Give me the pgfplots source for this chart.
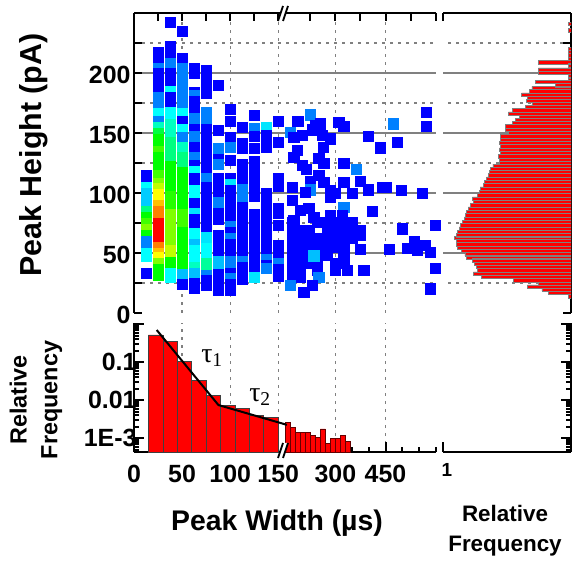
\documentclass[border=0pt]{standalone}
\usepackage{pgfplots}
\pgfplotsset{compat=1.18}
\usepackage{fontspec}
\setmainfont{Liberation Sans}
\newfontfamily\tauserif{Liberation Serif}
\definecolor{gridgray}{RGB}{128,128,128}
\pgfplotsset{
  colormap={scat}{rgb255=(0,0,255) rgb255=(0,128,255) rgb255=(0,255,255) rgb255=(0,255,128) rgb255=(0,255,0) rgb255=(128,255,0) rgb255=(255,255,0) rgb255=(255,128,0) rgb255=(255,0,0)},
  base/.style={
    scale only axis, anchor=south west,
    axis line style={line width=2.4bp, black, -},
    tick align=inside,
    major tick length=8bp, minor tick length=5bp,
    tick style={black, line width=2bp},
    tick label style={font=\bfseries\fontsize{25}{25}\selectfont},
    major grid style={gridgray, line width=1.4bp},
    minor grid style={gridgray, line width=1.3bp, dash pattern=on 3bp off 5bp},
  },
}
\pgfplotstableread{
x y c
12.5 115 0
12.5 110 0
12.5 105 2
12.5 100 1.6
12.5 95 1.6
12.5 90 1.6
12.5 85 3
12.5 80 4
12.5 75 4.5
12.5 70 5
12.5 65 4
12.5 60 1
12.5 55 1
12.5 50 2
12.5 47 2
12.5 33 0
25 217 0
25 212 0
25 207 0
25 204 1
25 200 0
25 195 0
25 190 0
25 185 0
25 180 1
25 175 1
25 170 1
25 166 2
25 160 1
25 155 2.5
25 150 3.5
25 145 4
25 140 4
25 135 4.5
25 130 4
25 125 4
25 120 4
25 115 4.5
25 108 5
25 104 5.5
25 99 6
25 94 6
25 90 6.5
25 85 7
25 80 7
25 75 8
25 70 8
25 65 8
25 60 8
25 55 7
25 50 6.5
25 46 6
25 41 5
25 36 4
25 31.5 4
37.5 242.5 0
37.5 222 0
37.5 217 0
37.5 213 0
37.5 208 1
37.5 204 1
37.5 200 0
37.5 195 0
37.5 190 0
37.5 185 2
37.5 180 0
37.5 175 0
37.5 171 0
37.5 167 2
37.5 162 2
37.5 157 2.5
37.5 152 2.5
37.5 147 2.5
37.5 142 3
37.5 137 3
37.5 132 3
37.5 127 3
37.5 122 4
37.5 117 4
37.5 112 4
37.5 107 4
37.5 102 4
37.5 97 4.3
37.5 92 4.3
37.5 87 4.3
37.5 82 5
37.5 77 5
37.5 72 5
37.5 67 5
37.5 62 5
37.5 57 5
37.5 52 5.5
37.5 47 5.5
37.5 42 4
37.5 38 4
37.5 33 2
37.5 29.7 2
50 235 0
50 212 0
50 208 0
50 204 1
50 199 1
50 194 1
50 189 1
50 184 1
50 179 1
50 174 1
50 170 1
50 166 2
50 160 0
50 153 2
50 146 1
50 138 2.5
50 130 3
50 126 3
50 122 3
50 117 4
50 112 4
50 107 4
50 102 4
50 97 4
50 92 4
50 87 4
50 82 4.5
50 77 4.5
50 72 4.5
50 67 4
50 62 4
50 57 4
50 52 4
50 47 4
50 42 4
50 37 4
50 32 1.5
50 24 0
62.5 204 0
62.5 200 0
62.5 184 0
62.5 181 1
62.5 176 0
62.5 171 0
62.5 166 0
62.5 162 1
62.5 153 0
62.5 147 1
62.5 143 1
62.5 138 0
62.5 130 1
62.5 126 1
62.5 123 0
62.5 118 2
62.5 112 0
62.5 107 0
62.5 102 2
62.5 97 2
62.5 91 0
62.5 87 0
62.5 83 1.8
62.5 78 0
62.5 73 0
62.5 66 2
62.5 62 2
62.5 57 1.5
62.5 52 2
62.5 47 2
62.5 43 2
62.5 38 2.5
62.5 33 1.5
62.5 30 1.5
62.5 25 0
62.5 21 0
75 202 0
75 193 0
75 188 0
75 183 0
75 167 1
75 162 1
75 158 1
75 153 0
75 148 0
75 143 0
75 138 0
75 133 0
75 128 0
75 123 0
75 118 0
75 112 1
75 105 0
75 100 0
75 95 0
75 90 0
75 85 0
75 80 0
75 75 0
75 70 0
75 63 1.8
75 59 1.8
75 54 2
75 49 2
75 45 2
75 41 2.8
75 36 2.8
75 31 1
75 27 0
75 23 0
87.5 190 0
87.5 152 0
87.5 137 1
87.5 128 0
87.5 124 1
87.5 112 0
87.5 107 0
87.5 102 0
87.5 97 0
87.5 92 1
87.5 88 1
87.5 83 0
87.5 78 0
87.5 65 0
87.5 60 0
87.5 55 0
87.5 50 0
87.5 43 1.5
87.5 38 1.5
87.5 32 0
87.5 27 0
87.5 22 0
87.5 19 0
100 170 0
100 160 0
100 146 0
100 138 1
100 127 0
100 112 0
100 107 1.8
100 102 0
100 97 0
100 92 0
100 87 0
100 82 0
100 77 0
100 72 1
100 67 0
100 62 1
100 57 0
100 52 0
100 47 0
100 43 1
100 38 1
100 33 0
100 29 1
100 24 0
100 19 0
112.5 155 0
112.5 141 0
112.5 137 0
112.5 124 0
112.5 119 0
112.5 114 0
112.5 109 0
112.5 103 1
112.5 98 1
112.5 93 1
112.5 88 0
112.5 83 0
112.5 78 0
112.5 73 0
112.5 68 0
112.5 63 0
112.5 58 0
112.5 53 0
112.5 48 0
112.5 43 1
112.5 38 0
112.5 33 0
112.5 28 0
125 165 0
125 154 1
125 147 0
125 137 0
125 126 0
125 122 0
125 117 0
125 112 0
125 107 0
125 102 0
125 97 0
125 82 0
125 77 0
125 72 0
125 67 0
125 62 0
125 57 0
125 52 0
125 47 0
125 42 0
125 38 0
125 30 1.8
137.5 155 1.8
137.5 148 0
137.5 143 0
137.5 138 0
137.5 100 0
137.5 95 0
137.5 90 0
137.5 85 0
137.5 80 0
137.5 75 0
137.5 70 0
137.5 65 0
137.5 60 0
137.5 55 0
137.5 50 0
137.5 45 1
137.5 40 0
137.5 37 1
150 160 0
150 142 0
150 112 0
150 106 0
150 87 0
150 83 0
150 73 0
150 56 0
150 51 0
150 46 0
150 41 1
150 36 0
150 31 0
183.3 165.3 1
303.8 167.5 0
170.1 159.7 0
193.8 157.8 0
212.8 159.2 0
218 155.6 0
269.5 157.8 1
303.8 155.6 0
162.5 150.8 1
185 152.8 0
189 156 0
193.8 153 0
166 146.7 0
174.7 148 0
195.5 148 0
204 145.3 0
243.4 147.2 0
273.6 142.5 0
196.5 138.3 0
256 137.8 0
169.5 135.6 0
166 130 0
192 128.7 0
197.2 125 0
174.7 123 0
179 119.8 0
218 125 0
231 119.8 1
192 114.8 0
183.3 110 0
197.2 109.2 0
218 109.2 0
235.4 110 0
164.2 105 0
183.3 102.8 1
204 102.3 0
209.4 99.5 0
226.8 100 0
243.4 102.8 0
258.6 105 0
262 104.5 0
278 102.3 0
299.7 100 0
178 100.8 0
218 88.3 1
247.6 85 0
164.2 94 0
204 96.7 0
181.6 87 0
173 85.6 0
186.8 80 0
166 77.3 0
204 81.4 0
216.3 81.4 0
201 74 0
209 74 0
225 73 0
278.8 70.3 0
313.5 73 0
164.2 75.8 0
190.3 75.8 0
200.7 75.8 0
209.4 75.8 0
218 75.8 0
226.7 75.8 0
164.2 68.9 0
172.9 68.9 0
181.6 68.9 0
200.7 68.9 0
209.4 68.9 0
218 68.9 0
226.7 68.9 0
235.4 68.9 0
164.2 62 0
172.9 62 0
181.6 62 0
190.3 62 0
200.7 62 0
209.4 62 0
218 62 0
226.7 62 0
164.2 55 0
172.9 55 0
181.6 55 0
190.3 55 0
200.7 55 0
209.4 55 0
218 55 0
164.2 48 0
172.9 48 0
181.6 48 0
190.3 48 0
200.7 48 0
218 48 0
164.2 41.2 0
172.9 41.2 0
181.6 41.2 0
190.3 41.2 0
209.4 41.2 0
218 41.2 0
164.2 35.6 0
172.9 35.6 0
190.3 35.6 0
164.2 30 0
172.9 30 0
186.8 47.8 1.5
235.4 64.8 0
291 59.7 0
303 56.4 0
284 53.7 0
294.5 52.2 0
308.3 50.8 0
265 53 0
235.4 53 0
238.9 35.6 0
209.4 35.6 0
221.5 35.6 0
192 30 1
162.5 23 1
185 23 0
176.4 17.5 0
308.3 20.3 0
313.5 37 0
}\scatdata
\begin{document}
\begin{tikzpicture}[font=\bfseries]
\useasboundingbox (0,0) rectangle (572bp,561bp);
% ---------------- scatter ----------------
\begin{axis}[base, at={(134bp,248bp)}, width=302bp, height=300bp,
  xmin=0, xmax=314, ymin=0, ymax=250,
  axis x line*=top, axis y line*=left,
  xtick={25,75,125,183.3,235.4,287.5,313.6}, xticklabels={},
  minor xtick={50,100,150,209.4,261.5}, xminorgrids=true,
  minor tick length=8bp,
  ytick={50,100,150,200}, yticklabels={50,100,150,200},
  minor ytick={25,75,125,175,225}, ymajorgrids=true, yminorgrids=true,
  extra y ticks={0}, extra y tick labels={0}, extra y tick style={grid=none},
  yticklabel style={yshift=-2bp},
  colormap name=scat, point meta min=0, point meta max=8,
]
\addplot[scatter, only marks, mark=square*, mark size=5.1bp, point meta=explicit,
  scatter/use mapped color={draw=mapped color, fill=mapped color}]
  table[x=x, y=y, meta=c] {\scatdata};
\end{axis}
% ---------------- width histogram ----------------
\begin{axis}[base, at={(134bp,109bp)}, width=302bp, height=129bp,
  xmin=0, xmax=314, ymode=log, ymin=4.3e-4, ymax=1.07, log origin y=infty,
  axis x line*=bottom, axis y line*=left,
  xtick={0,50,100,150,209.4,261.5}, xticklabels={0,50,100,150,300,450},
  minor xtick={25,75,125,174.7,192.0,226.7,244.1,278.8,296.1,313.5},
  extra x ticks={50,100,150,209.4,261.5}, extra x tick labels={},
  extra x tick style={grid=major, major grid style={gridgray, line width=1.3bp, dash pattern=on 3bp off 5bp}},
  ytick={0.001,0.01,0.1,1}, yticklabels={1E-3,0.01,0.1,{}},
  minor ytick={5e-4,6e-4,7e-4,8e-4,9e-4,2e-3,3e-3,4e-3,5e-3,6e-3,7e-3,8e-3,9e-3,0.02,0.03,0.04,0.05,0.06,0.07,0.08,0.09,0.2,0.3,0.4,0.5,0.6,0.7,0.8,0.9},
  xticklabel style={yshift=-10bp},
  yticklabel style={xshift=6bp},
  major tick length=10bp, minor tick length=5bp,
]
\addplot[ybar interval, fill=red, draw=black!75, line width=0.7bp] coordinates {
(15,0.52) (30,0.35) (45,0.106) (60,0.033) (75,0.0132) (90,0.0071) (105,0.0061) (120,0.0039) (135,0.00346) (150,0.00346)};
\addplot[ybar interval, fill=red, draw=black!60!red, line width=0.6bp] coordinates {
(157.3,0.00261) (162.5,0.00194) (167.7,0.00144) (172.9,0.00144) (178.1,0.00144) (183.3,0.00118) (188.5,0.00104) (193.7,0.00175) (198.9,0.00073) (204.1,0.00096) (209.4,0.00096) (214.6,0.00118) (219.8,0.00082) (225.0,0.00082)};
\addplot[black, line width=2bp] coordinates {(23.6,0.70) (87.8,0.0074) (159,0.00223)};
\end{axis}
% ---------------- height histogram ----------------
\begin{axis}[base, at={(443bp,248bp)}, width=128bp, height=300bp,
  xmode=log, xmin=4.3e-4, xmax=1, x dir=reverse, log origin x=infty,
  ymin=0, ymax=250,
  axis x line*=top, axis y line*=right,
  xtick={1}, xticklabels={}, xminorticks=false,
  ytick={50,100,150,200}, yticklabels={}, minor ytick={25,75,125,175,225},
  ymajorgrids=true, yminorgrids=true, minor tick length=8bp,
  extra y ticks={0}, extra y tick labels={}, extra y tick style={grid=none},
]
\addplot[xbar, bar width=2.75, bar shift=0pt, fill=red, draw=gray, line width=0.6bp] coordinates {
(5e-4,241) (5e-4,235.6) (5e-4,220) (5e-4,217.4) (5e-4,214.7) (5e-4,212)
(3.1e-3,209) (5e-4,206.4) (3.1e-3,202.8) (3.1e-3,200) (5e-4,197.2) (5e-4,195)
(3.8e-3,192.5) (1.13e-3,189.8) (4.6e-3,187.5) (5.3e-3,184.7) (8.5e-3,182)
(6.0e-3,179.2) (6.5e-3,176.7) (4.6e-3,174.5) (6.95e-3,171.7) (0.0147,169)
(0.0191,166.2) (0.0098,163.4) (0.0125,161) (0.0147,158.4) (0.0233,155.6)
(0.0233,152.8) (0.0191,150) (0.0303,147.3) (0.0316,144.5) (0.0330,141.7)
(0.0303,139) (0.0330,136.2) (0.0303,133.4) (0.035,130.6) (0.033,127.8)
(0.033,125) (0.049,122.6) (0.058,120.1) (0.0606,117.5) (0.064,114.75)
(0.071,112) (0.0817,109.2) (0.087,106.4) (0.106,103.7) (0.111,100.9)
(0.122,98.1) (0.169,95.3) (0.159,92.5) (0.187,89.75) (0.215,87)
(0.238,84.2) (0.253,81.4) (0.274,78.7) (0.303,75.9) (0.343,73.1)
(0.379,70.3) (0.411,67.5) (0.455,64.75) (0.504,62.5) (0.436,59.9)
(0.455,57.2) (0.411,54.5) (0.336,51.7) (0.264,49) (0.238,46.5)
(0.169,43.9) (0.150,41.2) (0.135,38.4) (0.122,35.6) (0.159,32.8)
(0.100,30) (0.0141,27.3) (3.1e-3,24.5) (6.0e-3,22.1) (2.5e-3,19.5)
(1.7e-3,16.7) (5.0e-4,13.9)};
\end{axis}
% ---------------- empty corner box ----------------
\begin{axis}[base, at={(443bp,109bp)}, width=128bp, height=129bp,
  xmode=log, xmin=4.3e-4, xmax=1, x dir=reverse,
  ymode=log, ymin=4.3e-4, ymax=1.07,
  axis x line*=bottom, axis y line*=right,
  xtick={1}, xticklabels={1}, xminorticks=false,
  xticklabel style={font=\bfseries\fontsize{19}{19}\selectfont, yshift=-8bp, xshift=4bp},
  ytick={0.001,0.01,0.1,1}, yticklabels={},
  minor ytick={5e-4,6e-4,7e-4,8e-4,9e-4,2e-3,3e-3,4e-3,5e-3,6e-3,7e-3,8e-3,9e-3,0.02,0.03,0.04,0.05,0.06,0.07,0.08,0.09,0.2,0.3,0.4,0.5,0.6,0.7,0.8,0.9},
  major tick length=10bp, minor tick length=5bp,
]
\end{axis}
% ---------------- axis breaks ----------------
\fill[white] (278bp,540bp) -- (283bp,555bp) -- (288bp,555bp) -- (283bp,540bp) -- cycle;
\draw[black, line width=1.8bp] (278bp,540bp) -- (283bp,555bp);
\draw[black, line width=1.8bp] (283bp,540bp) -- (288bp,555bp);
\fill[white] (278bp,103bp) -- (283bp,118bp) -- (288bp,118bp) -- (283bp,103bp) -- cycle;
\draw[black, line width=1.8bp] (278bp,103bp) -- (283bp,118bp);
\draw[black, line width=1.8bp] (283bp,103bp) -- (288bp,118bp);
% ---------------- labels ----------------
\node[rotate=90, font=\bfseries\fontsize{30.5}{30.5}\selectfont] at (34bp,406bp) {Peak Height (pA)};
\node[rotate=90, align=center, font=\bfseries\fontsize{23.5}{31}\selectfont] at (36bp,161bp) {Relative\\Frequency};
\node[font=\bfseries\fontsize{28.5}{28.5}\selectfont] at (277bp,38bp) {Peak Width (µs)};
\node[align=center, font=\bfseries\fontsize{22.5}{30}\selectfont] at (505bp,30bp) {Relative\\Frequency};
\node[font=\tauserif\fontsize{28}{28}\selectfont] at (212bp,203bp) {τ\textsubscript{1}};
\node[font=\tauserif\fontsize{28}{28}\selectfont] at (260bp,164bp) {τ\textsubscript{2}};
\end{tikzpicture}
\end{document}
